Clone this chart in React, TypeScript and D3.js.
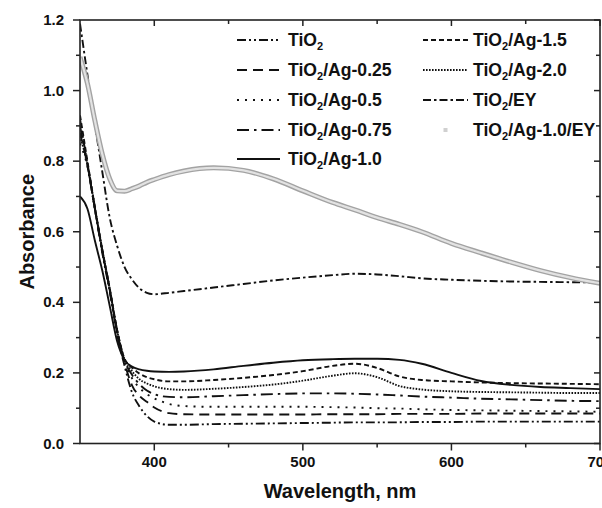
import React from 'react';
import * as d3 from 'd3';

const wavelength = [350,355,360,365,370,375,380,385,390,395,400,410,420,440,460,480,500,520,535,550,565,580,600,620,640,660,680,700];

const tio2 =      [0.92,0.79,0.665,0.54,0.43,0.31,0.22,0.145,0.105,0.078,0.062,0.053,0.053,0.055,0.056,0.057,0.058,0.059,0.06,0.06,0.06,0.061,0.061,0.062,0.062,0.062,0.062,0.062];
const ag025 =     [0.88,0.79,0.665,0.545,0.435,0.315,0.228,0.165,0.135,0.118,0.102,0.086,0.083,0.082,0.082,0.082,0.082,0.083,0.083,0.083,0.084,0.084,0.084,0.085,0.085,0.085,0.085,0.085];
const ag05 =      [0.85,0.785,0.665,0.545,0.435,0.318,0.232,0.185,0.158,0.14,0.128,0.112,0.106,0.104,0.104,0.104,0.104,0.103,0.102,0.1,0.099,0.097,0.095,0.094,0.093,0.092,0.091,0.09];
const ag075 =     [0.90,0.79,0.668,0.548,0.438,0.32,0.235,0.195,0.168,0.15,0.14,0.132,0.131,0.134,0.137,0.14,0.142,0.142,0.141,0.139,0.136,0.133,0.13,0.127,0.125,0.123,0.121,0.12];
const ag10 =      [0.70,0.665,0.575,0.49,0.39,0.29,0.237,0.218,0.21,0.206,0.204,0.203,0.204,0.21,0.22,0.229,0.236,0.239,0.24,0.24,0.237,0.226,0.2,0.177,0.166,0.16,0.157,0.154];
const ag15 =      [0.93,0.8,0.67,0.55,0.44,0.322,0.24,0.215,0.198,0.188,0.182,0.176,0.176,0.18,0.186,0.194,0.205,0.22,0.226,0.214,0.19,0.18,0.176,0.173,0.171,0.17,0.169,0.168];
const ag20 =      [0.87,0.79,0.667,0.548,0.437,0.32,0.238,0.205,0.182,0.17,0.162,0.154,0.152,0.155,0.16,0.167,0.178,0.192,0.199,0.188,0.163,0.153,0.148,0.146,0.145,0.144,0.143,0.143];
const ey =        [1.19,1.045,0.905,0.77,0.64,0.56,0.5,0.465,0.44,0.427,0.423,0.427,0.432,0.442,0.452,0.462,0.47,0.477,0.481,0.479,0.474,0.468,0.464,0.461,0.459,0.458,0.457,0.456];
const ag10ey =    [1.095,1.02,0.915,0.82,0.75,0.716,0.715,0.722,0.73,0.74,0.748,0.762,0.772,0.781,0.774,0.75,0.716,0.683,0.662,0.64,0.621,0.6,0.567,0.54,0.514,0.49,0.47,0.454];

const seriesLabels = ['TiO2','TiO2/Ag-0.25','TiO2/Ag-0.5','TiO2/Ag-0.75','TiO2/Ag-1.0','TiO2/Ag-1.5','TiO2/Ag-2.0','TiO2/EY','TiO2/Ag-1.0/EY'];
const seriesValues = [tio2, ag025, ag05, ag075, ag10, ag15, ag20, ey, ag10ey];

const xTicks = [400, 500, 600, 700];
const xMinorTicks = [450, 550, 650];
const yTicks = [0.0, 0.2, 0.4, 0.6, 0.8, 1.0, 1.2];
const yMinorTicks = [0.1, 0.3, 0.5, 0.7, 0.9, 1.1];

const W = 602, H = 508;
const M = { left: 80, right: 600, top: 20, bottom: 443.5 };

const dashes: (string | null)[] = [
  '9 3 2 3 2 3',
  '10 6',
  '2 6',
  '12 5 2.5 5',
  null,
  '5 3',
  '1.6 1.4',
  '8 3 2.5 3',
  'gray',
];

function Label({ text, x, y }: { text: string; x: number; y: number }) {
  const rest = text.slice(4);
  return (
    <text x={x} y={y} fontFamily="Liberation Sans, Arial, sans-serif" fontWeight="bold" fontSize={17.6} fill="#111">
      <tspan>TiO</tspan>
      <tspan dy={4} fontSize={11}>2</tspan>
      <tspan dy={-4}>{rest}</tspan>
    </text>
  );
}

export default function App() {
  const x = d3.scaleLinear().domain([350, 700]).range([M.left, M.right]);
  const y = d3.scaleLinear().domain([0, 1.2]).range([M.bottom, M.top]);
  const line = d3.line<number>()
    .x((_, i) => x(wavelength[i]))
    .y((d) => y(d))
    .curve(d3.curveMonotoneX);

  const font = 'Liberation Sans, Arial, sans-serif';
  const legendRows = [46, 76, 106, 136, 165];
  const legendItems = seriesLabels.map((lab, i) => {
    const col = i < 5 ? 0 : 1;
    const row = i < 5 ? i : i - 5;
    return { lab, i, col, row };
  });

  return (
    <svg width={W} height={H} style={{ position: 'absolute', left: 0, top: 0, background: '#fff' }}>
      <defs>
        <clipPath id="plot">
          <rect x={M.left} y={M.top} width={M.right - M.left} height={M.bottom - M.top} />
        </clipPath>
      </defs>
      <rect width={W} height={H} fill="#fff" />
      <g clipPath="url(#plot)">
        {seriesValues.map((vals, i) => {
          const d = line(vals) || '';
          if (dashes[i] === 'gray') {
            return (
              <g key={i}>
                <path d={d} fill="none" stroke="#a3a3a3" strokeWidth={5} />
                <path d={d} fill="none" stroke="#e2e2e2" strokeWidth={2.2} />
              </g>
            );
          }
          return (
            <path key={i} d={d} fill="none" stroke="#111" strokeWidth={1.9}
              strokeDasharray={dashes[i] || undefined} />
          );
        })}
      </g>
      <rect x={M.left} y={M.top} width={M.right - M.left} height={M.bottom - M.top} fill="none" stroke="#222" strokeWidth={1.6} />
      {xTicks.map((t) => (
        <g key={'xt' + t}>
          <line x1={x(t)} x2={x(t)} y1={M.bottom} y2={M.bottom + 7} stroke="#222" strokeWidth={1.5} />
          <line x1={x(t)} x2={x(t)} y1={M.top} y2={M.top + 6} stroke="#222" strokeWidth={1.5} />
          <text x={x(t)} y={M.bottom + 23} textAnchor="middle" fontFamily={font} fontWeight="bold" fontSize={15} fill="#111">{t}</text>
        </g>
      ))}
      {xMinorTicks.map((t) => (
        <g key={'xm' + t}>
          <line x1={x(t)} x2={x(t)} y1={M.bottom} y2={M.bottom + 4} stroke="#222" strokeWidth={1.5} />
          <line x1={x(t)} x2={x(t)} y1={M.top} y2={M.top + 4} stroke="#222" strokeWidth={1.5} />
        </g>
      ))}
      {yTicks.map((t) => (
        <g key={'yt' + t}>
          <line x1={M.left - 7} x2={M.left} y1={y(t)} y2={y(t)} stroke="#222" strokeWidth={1.5} />
          <line x1={M.right - 6} x2={M.right} y1={y(t)} y2={y(t)} stroke="#222" strokeWidth={1.5} />
          <text x={M.left - 16} y={y(t) + 5} textAnchor="end" fontFamily={font} fontWeight="bold" fontSize={15} fill="#111">{t.toFixed(1)}</text>
        </g>
      ))}
      {yMinorTicks.map((t) => (
        <g key={'ym' + t}>
          <line x1={M.left - 4} x2={M.left} y1={y(t)} y2={y(t)} stroke="#222" strokeWidth={1.5} />
          <line x1={M.right - 4} x2={M.right} y1={y(t)} y2={y(t)} stroke="#222" strokeWidth={1.5} />
        </g>
      ))}
      <text x={(M.left + M.right) / 2} y={498} textAnchor="middle" fontFamily={font} fontWeight="bold" fontSize={20} fill="#111">Wavelength, nm</text>
      <text transform={`translate(34, ${(M.top + M.bottom) / 2}) rotate(-90)`} textAnchor="middle" fontFamily={font} fontWeight="bold" fontSize={20} fill="#111">Absorbance</text>
      {legendItems.map(({ lab, i, col, row }) => {
        const ly = legendRows[row];
        const x0 = col === 0 ? 237 : 423;
        const x1 = col === 0 ? 280 : 468;
        const tx = col === 0 ? 288 : 473;
        return (
          <g key={'lg' + i}>
            {dashes[i] === 'gray' ? (
              <rect x={(x0 + x1) / 2 - 2} y={ly - 8} width={4} height={4} fill="#d0d0d0" />
            ) : (
              <line x1={x0} x2={x1} y1={ly - 6} y2={ly - 6} stroke="#111" strokeWidth={1.9} strokeDasharray={dashes[i] || undefined} />
            )}
            <Label text={lab} x={tx} y={ly} />
          </g>
        );
      })}
    </svg>
  );
}
